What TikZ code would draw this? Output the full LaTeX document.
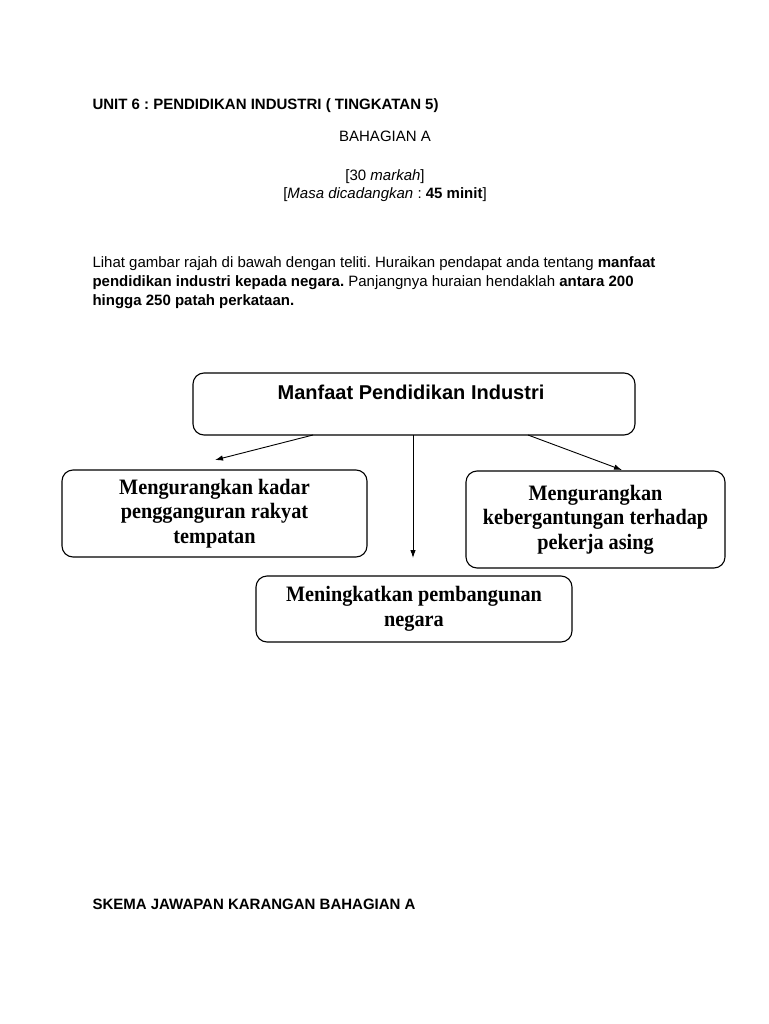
\documentclass[tikz,border=0pt]{standalone}
\usepackage{fontspec}
\setmainfont{Liberation Sans}
\newfontfamily\boxfont[FakeStretch=0.92]{Liberation Serif}
\usetikzlibrary{arrows.meta}
\frenchspacing
\begin{document}
\begin{tikzpicture}[x=1pt,y=-1pt,line width=1pt,
  every node/.style={font=\fontsize{15}{18}\selectfont,inner sep=0pt},
  txt/.style={anchor=base west},
  box/.style={draw,rounded corners=11pt,line width=1.1pt,align=center,
    font=\boxfont\bfseries\fontsize{22}{24.5}\selectfont},
  arr/.style={-{Latex[length=8pt,width=5.5pt]},line width=.9pt}]
  \path[use as bounding box,fill=white] (0,0) rectangle (768,1024);
  % header
  \node[txt] (unit) at (92,110) {\bfseries UNIT 6 : PENDIDIKAN INDUSTRI ( TINGKATAN 5)};
  \node[anchor=base] (bahagian) at (385,142) {BAHAGIAN A};
  \node[anchor=base] (markah) at (385,181) {[30 \textit{markah}]};
  \node[anchor=base] (masa) at (385,199) {[\textit{Masa dicadangkan} : \textbf{45 minit}]};
  % question
  \node[txt] (q1) at (92,267) {Lihat gambar rajah di bawah dengan teliti. Huraikan pendapat anda tentang \textbf{manfaat}};
  \node[txt] (q2) at (92,286) {\textbf{pendidikan industri kepada negara.} Panjangnya huraian hendaklah \textbf{antara 200}};
  \node[txt] (q3) at (92,305) {\textbf{hingga 250 patah perkataan.}};
  % diagram
  \node[box,minimum width=442pt,minimum height=62pt] (top) at (414,404) {};
  \node[anchor=base,font=\bfseries\fontsize{20}{22}\selectfont] (title) at (411,399) {Manfaat Pendidikan Industri};
  \node[box,minimum width=305pt,minimum height=87pt] (left) at (214.5,513.5)
    {Mengurangkan kadar\\pengganguran rakyat\\tempatan};
  \node[box,minimum width=259pt,minimum height=97pt] (right) at (595.5,519.5)
    {Mengurangkan\\kebergantungan terhadap\\pekerja asing};
  \node[box,minimum width=316pt,minimum height=66pt] (mid) at (414,609)
    {Meningkatkan pembangunan\\negara};
  \coordinate (s1) at (313,435);
  \coordinate (s2) at (413,435);
  \coordinate (s3) at (528,435);
  \coordinate (e1) at (215,460);
  \coordinate (e2) at (413,558);
  \coordinate (e3) at (622,470);
  \draw[arr] (s1)--(e1);
  \draw[arr] (s2)--(e2);
  \draw[arr] (s3)--(e3);
  % answer scheme
  \node[txt] (skema) at (92,909) {\bfseries SKEMA JAWAPAN KARANGAN BAHAGIAN A};
\end{tikzpicture}
\end{document}
